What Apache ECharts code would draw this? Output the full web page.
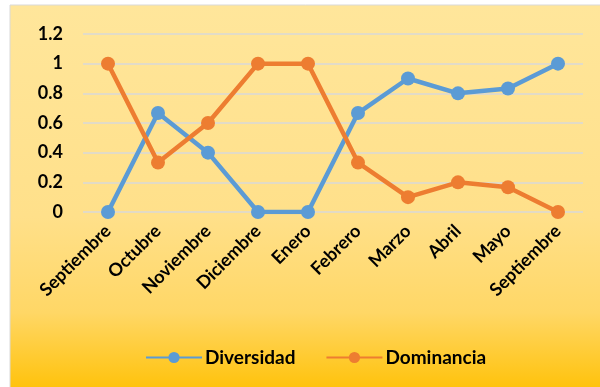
<!DOCTYPE html>
<html><head><meta charset="utf-8">
<script src="https://cdn.jsdelivr.net/npm/echarts@6/dist/echarts.min.js"></script>
<style>html,body{margin:0;padding:0;background:#fff}#c{width:600px;height:387px}</style>
</head><body><div id="c"></div>
<script>
var categories = ['Septiembre','Octubre','Noviembre','Diciembre','Enero','Febrero','Marzo','Abril','Mayo','Septiembre'];
var diversidad = [0, 0.667, 0.4, 0, 0, 0.667, 0.9, 0.8, 0.833, 1];
var dominancia = [1, 0.333, 0.6, 1, 1, 0.333, 0.1, 0.2, 0.167, 0];
var chart = echarts.init(document.getElementById('c'));
var font = 'Lato, "Open Sans", sans-serif';
chart.setOption({
  animation: false,
  graphic: [{
    type: 'rect', z: -10, silent: true,
    shape: {x: 10, y: 5, width: 592, height: 384},
    style: {
      fill: new echarts.graphic.LinearGradient(0, 0, 0, 1, [
        {offset: 0, color: '#FFE69B'},
        {offset: 0.55, color: '#FFE08A'},
        {offset: 0.8, color: '#FFD766'},
        {offset: 1, color: '#FFC20A'}
      ]),
      stroke: '#D9D9D9', lineWidth: 1
    }
  }],
  grid: {left: 83, right: 17, top: 34, bottom: 175},
  legend: {
    left: 140, top: 343, itemWidth: 56, itemHeight: 14, itemGap: 30,
    textStyle: {fontFamily: font, fontWeight: 'bold', fontSize: 19, color: '#000', padding: [0, 0, 0, -2]},
    data: ['Diversidad', 'Dominancia']
  },
  xAxis: {
    type: 'category', data: categories, boundaryGap: true,
    axisLine: {show: false}, axisTick: {show: false},
    axisLabel: {rotate: 45, interval: 0, margin: 16, fontFamily: font, fontWeight: 'bold', fontSize: 18, color: '#000'}
  },
  yAxis: {
    type: 'value', min: 0, max: 1.2, interval: 0.2,
    axisLine: {show: false}, axisTick: {show: false},
    splitLine: {lineStyle: {color: '#D9D9D9', width: 1.5}},
    axisLabel: {margin: 20, fontFamily: font, fontWeight: 'bold', fontSize: 18, color: '#000'}
  },
  series: [
    {name: 'Diversidad', type: 'line', data: diversidad, symbol: 'circle', symbolSize: 14,
     lineStyle: {width: 4.5, color: '#5B9BD5'}, itemStyle: {color: '#5B9BD5'}},
    {name: 'Dominancia', type: 'line', data: dominancia, symbol: 'circle', symbolSize: 14,
     lineStyle: {width: 4.5, color: '#ED7D31'}, itemStyle: {color: '#ED7D31'}}
  ]
});
</script></body></html>
